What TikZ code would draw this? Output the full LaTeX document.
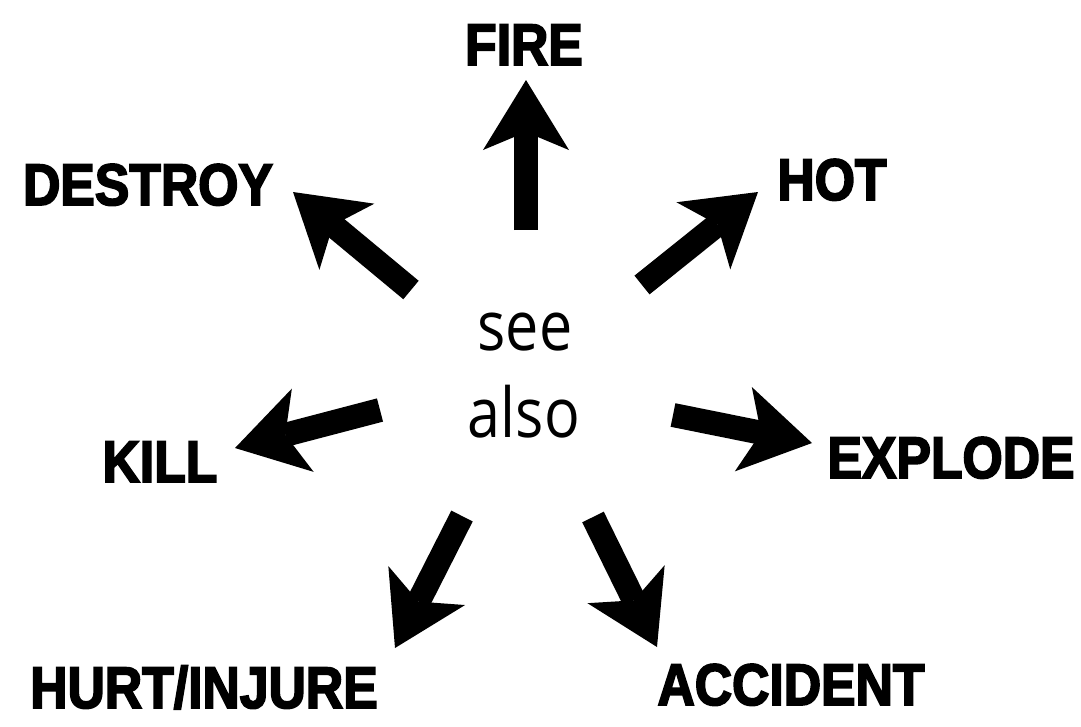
\documentclass[tikz,border=0pt]{standalone}
\usepackage{fontspec}
\usepackage{tikz}
\usetikzlibrary{arrows.meta}
\newfontfamily\wordfont{Liberation Sans}[UprightFont={* Bold},FakeStretch=0.88,FakeBold=3]
\newfontfamily\seefont{Open Sans}[FakeStretch=0.86]

\begin{document}
\begin{tikzpicture}[x=0.01cm,y=-0.01cm,
  word/.style={font=\wordfont\fontsize{16.7pt}{20pt}\selectfont,anchor=base,inner sep=0pt},
  seetext/.style={font=\seefont\fontsize{19.6pt}{24pt}\selectfont,anchor=base,inner sep=0pt},
  fat/.style={line width=0.24cm,-{Stealth[length=0.7cm,width=0.86cm,inset=0.18cm,line width=0pt]}}]
  \useasboundingbox (0,0) rectangle (1081,726);
  % in der Mitte
  \node[seetext] (see) at (525,350) {see};
  \node[seetext] (also) at (524,437) {also};
  % Woerter rundherum
  \node[word] (fire) at (524,65) {FIRE};
  \node[word] (destroy) at (148,205) {DESTROY};
  \node[word] (hot) at (832,200) {HOT};
  \node[word] (kill) at (160,482) {KILL};
  \node[word] (explode) at (951,478) {EXPLODE};
  \node[word] (hurt) at (204,708) {HURT/INJURE};
  \node[word] (accident) at (791,705) {ACCIDENT};
  % Pfeile: Anfang und Spitze
  \coordinate (fire-t) at (526,230);     \coordinate (fire-h) at (526,80);
  \coordinate (destroy-t) at (411,290);  \coordinate (destroy-h) at (293,192);
  \coordinate (hot-t) at (642,285);      \coordinate (hot-h) at (758,192);
  \coordinate (kill-t) at (380,410);     \coordinate (kill-h) at (235,448);
  \coordinate (explode-t) at (673,415);  \coordinate (explode-h) at (812,443);
  \coordinate (hurt-t) at (462,516);     \coordinate (hurt-h) at (395,648);
  \coordinate (accident-t) at (593,517); \coordinate (accident-h) at (657,647);
  \draw[fat] (fire-t) -- (fire-h);
  \draw[fat] (destroy-t) -- (destroy-h);
  \draw[fat] (hot-t) -- (hot-h);
  \draw[fat] (kill-t) -- (kill-h);
  \draw[fat] (explode-t) -- (explode-h);
  \draw[fat] (hurt-t) -- (hurt-h);
  \draw[fat] (accident-t) -- (accident-h);
\end{tikzpicture}
\end{document}
